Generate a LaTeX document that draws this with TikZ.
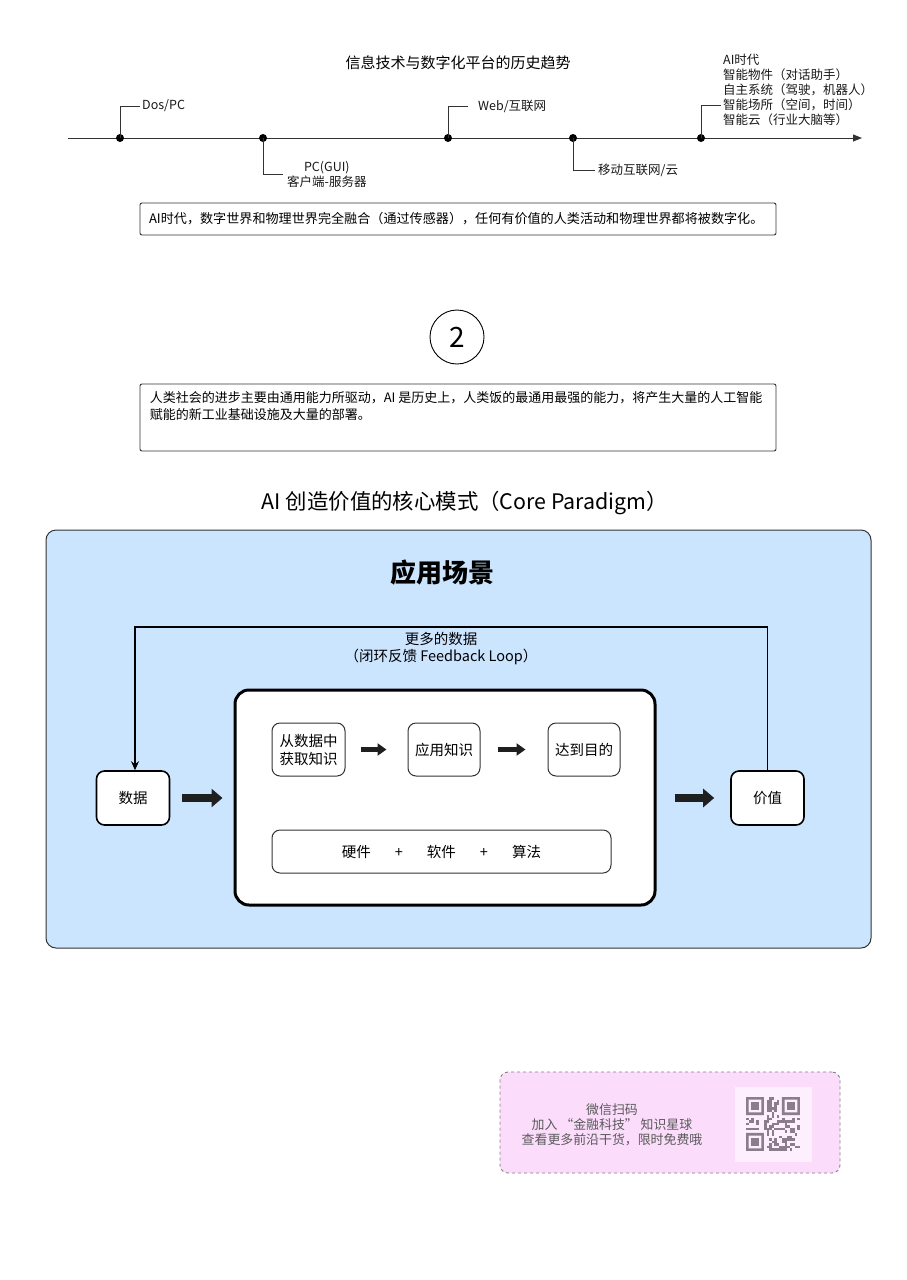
\documentclass[tikz,border=0pt]{standalone}
\usepackage{fontspec}
\setmainfont{Noto Sans CJK SC}
\usetikzlibrary{arrows.meta,positioning}
\newcommand\fsz[2]{\fontsize{#1}{#2}\selectfont}
\definecolor{panelblue}{HTML}{CCE5FF}
\definecolor{qrpink}{HTML}{FBDDFB}
\definecolor{qrlight}{HTML}{FDEFFD}
\definecolor{qrgray}{HTML}{8C7D8C}
\definecolor{linegray}{HTML}{333333}
\tikzset{
  tline/.style={line width=1pt, draw=linegray},
  dotn/.style={circle, fill=black, inner sep=0pt, minimum size=8pt},
  lbl/.style={font=\fsz{12.5}{15}, inner sep=2pt, text=black!90},
  tbox/.style={draw=linegray, line width=0.9pt, rounded corners=2pt},
  smallbox/.style={draw=linegray, line width=1pt, rounded corners=8pt, fill=white, align=center, font=\fsz{14.5}{18}, inner sep=2pt},
  sidebox/.style={draw=black, line width=1.6pt, rounded corners=8pt, fill=white, font=\fsz{14.5}{18}, minimum width=73pt, minimum height=54pt},
  fatarrow/.style={line width=7.5pt, draw=black!88, -{Triangle[length=11pt,width=18pt]}},
  thinarrow/.style={line width=5pt, draw=black!88, -{Triangle[length=9pt,width=12pt]}},
}
\begin{document}
\begin{tikzpicture}[x=1pt,y=-1pt]
\useasboundingbox (0,0) rectangle (906,1280);
\fill[white] (0,0) rectangle (906,1280);

% ---------- timeline ----------
\node[font=\fsz{15}{18}] (title1) at (458,63) {信息技术与数字化平台的历史趋势};
\coordinate (tlstart) at (68,138);
\coordinate (tlend) at (862,138);
\draw[tline, -{Triangle[length=9pt,width=7pt]}] (tlstart) -- (tlend);
\node[dotn] (d1) at (120,138) {};
\node[dotn] (d2) at (263,138) {};
\node[dotn] (d3) at (448,138) {};
\node[dotn] (d4) at (573,138) {};
\node[dotn] (d5) at (701,138) {};

\node[lbl, anchor=west] (l1) at (140,106) {Dos/PC};
\node[lbl, anchor=west, align=center, inner sep=4pt] (l2) at (283,174) {PC(GUI)\\客户端-服务器};
\node[lbl, anchor=west, inner sep=10pt] (l3) at (468,106) {Web/互联网};
\node[lbl, anchor=west, inner sep=3pt] (l4) at (595,170) {移动互联网/云};
\node[lbl, anchor=west] (ai1) at (721,60) {AI时代};
\node[lbl, anchor=west] (ai2) at (721,75) {智能物件（对话助手）};
\node[lbl, anchor=west] (ai3) at (721,90) {自主系统（驾驶，机器人）};
\node[lbl, anchor=west] (ai4) at (721,105) {智能场所（空间，时间）};
\node[lbl, anchor=west] (ai5) at (721,119.5) {智能云（行业大脑等）};

\draw[tline] (d1.center) |- (l1.west);
\draw[tline] (d2.center) |- (l2.west);
\draw[tline] (d3.center) |- (l3.west);
\draw[tline] (d4.center) |- (l4.west);
\draw[tline] (d5.center) |- (ai4.west);

% ---------- box 1 ----------
\node[tbox, minimum width=636pt, minimum height=32pt, text width=618pt, align=left, font=\fsz{13.1}{15}, inner xsep=9pt] (box1) at (458,219) {AI时代，数字世界和物理世界完全融合（通过传感器），任何有价值的人类活动和物理世界都将被数字化。};

% ---------- circle 2 ----------
\node[circle, draw=black, line width=0.9pt, minimum size=54pt, inner sep=0pt, font=\fsz{28}{30}] (two) at (457,337) {2};

% ---------- box 2 ----------
\node[tbox, minimum width=636pt, minimum height=67pt] (box2) at (458,417.5) {};
\node[anchor=north west, align=left, font=\fsz{13}{16.5}, inner sep=0pt] (box2txt) at ([xshift=10pt,yshift=-8pt]box2.north west) {人类社会的进步主要由通用能力所驱动，AI 是历史上，人类饭的最通用最强的能力，将产生大量的人工智能\\赋能的新工业基础设施及大量的部署。};

% ---------- core paradigm ----------
\node[font=\fsz{21.4}{24}] (title2) at (465,503) {AI 创造价值的核心模式（Core Paradigm）};
\node[draw=linegray, line width=1pt, fill=panelblue, rounded corners=10pt, minimum width=825pt, minimum height=418pt] (panel) at (458.5,739) {};
\node[font=\fsz{26}{29}\bfseries] (scene) at (442,573) {应用场景};

\node[draw=black, line width=3pt, fill=white, rounded corners=14pt, minimum width=420pt, minimum height=215pt] (inner) at (445,797.5) {};

\node[smallbox, minimum width=73pt, minimum height=53pt] (b1) at (308.5,749.5) {从数据中\\获取知识};
\node[smallbox, minimum width=72pt, minimum height=53pt] (b2) at (444,749.5) {应用知识};
\node[smallbox, minimum width=72pt, minimum height=53pt] (b3) at (584,749.5) {达到目的};
\draw[thinarrow, shorten <=15pt, shorten >=21pt] (b1.east) -- (b2.west);
\draw[thinarrow, shorten <=17pt, shorten >=22pt] (b2.east) -- (b3.west);

\node[smallbox, minimum width=339pt, minimum height=43pt] (tech) at (441.5,851.5) {硬件\hspace{24pt}+\hspace{24pt}软件\hspace{24pt}+\hspace{24pt}算法};

\node[sidebox] (sj) at (133,798) {数据};
\node[sidebox] (jz) at (767.5,798) {价值};
\draw[fatarrow, shorten <=12pt, shorten >=11pt] (sj.east) -- (inner.west |- sj.east);
\draw[fatarrow, shorten <=18pt, shorten >=16pt] (inner.east |- jz.west) -- (jz.west);

\draw[line width=1.6pt, draw=black, -{Stealth[length=9pt,width=8pt]}] (jz.north) -- (jz.north |- 0,627) -| ([xshift=2pt]sj.north);
\node[font=\fsz{14.5}{17.5}, align=center] (fblabel) at (441,648.5) {更多的数据\\（闭环反馈 Feedback Loop）};

% ---------- QR card ----------
\node[draw=black!50, dashed, line width=0.9pt, fill=qrpink, rounded corners=8pt, minimum width=340pt, minimum height=101pt] (card) at (670,1122.5) {};
\node[font=\fsz{12.9}{15}, text=black!65, align=center] (cardtxt) at (612,1125) {微信扫码\\加入 “金融科技” 知识星球\\查看更多前沿干货，限时免费哦};
\node[fill=qrlight, minimum width=77pt, minimum height=75pt, inner sep=0pt] (qr) at (773.5,1124.5) {};
\begin{scope}[shift={(746,1097)}]
  \def\m{2.57}
  \foreach \ox/\oy in {0/0, 14/0, 0/14}{
    \fill[qrgray, even odd rule] (\ox*\m,\oy*\m) rectangle ++(7*\m,7*\m) ({(\ox+1)*\m},{(\oy+1)*\m}) rectangle ++(5*\m,5*\m);
    \fill[qrgray] ({(\ox+2)*\m},{(\oy+2)*\m}) rectangle ++(3*\m,3*\m);
  }
  \pgfmathsetseed{4242}
  \foreach \i in {0,...,20}{
    \foreach \j in {0,...,20}{
      \pgfmathtruncatemacro{\skp}{((\i<8)&&(\j<8)) || ((\i>12)&&(\j<8)) || ((\i<8)&&(\j>12))}
      \pgfmathrandominteger{\r}{0}{1}
      \ifnum\skp=0 \ifnum\r=1 \fill[qrgray] (\i*\m,\j*\m) rectangle ++(\m,\m); \fi\fi
    }
  }
\end{scope}
\end{tikzpicture}
\end{document}
